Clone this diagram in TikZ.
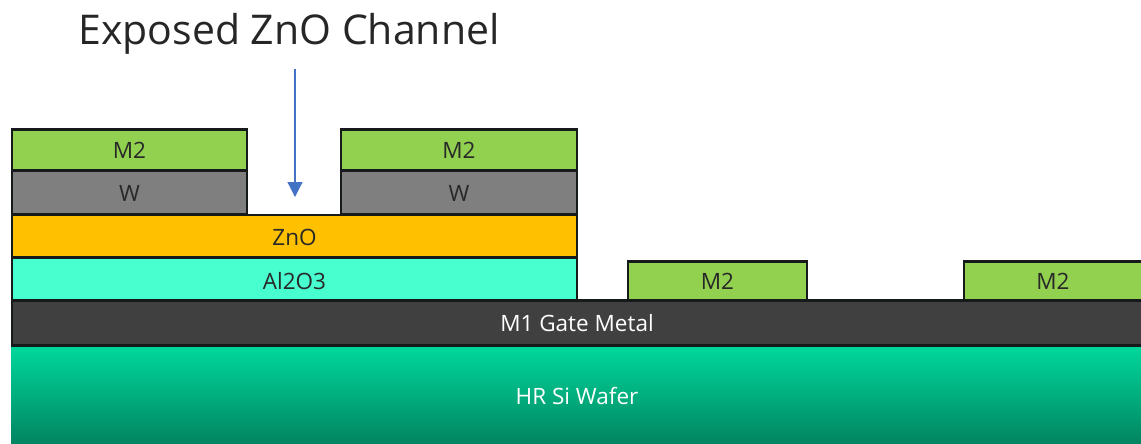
\documentclass[tikz,border=0pt]{standalone}
\usepackage{fontspec}
\setmainfont{Open Sans}
\usetikzlibrary{arrows.meta}
\definecolor{mtwo}{RGB}{146,208,80}
\definecolor{wgray}{RGB}{127,127,127}
\definecolor{zno}{RGB}{255,192,0}
\definecolor{alox}{RGB}{72,255,208}
\definecolor{gatem}{RGB}{64,64,64}
\definecolor{edge}{RGB}{22,26,26}
\definecolor{txt}{RGB}{40,40,40}
\definecolor{arrowblue}{RGB}{68,114,196}
\definecolor{wtop}{RGB}{0,216,156}
\definecolor{wbot}{RGB}{2,132,96}
\tikzset{
  lab/.style={font=\fontsize{22.5}{25}\selectfont},
  layer/.style={draw=edge,line width=2.4pt,inner sep=0pt,outer sep=0pt,text=txt,lab},
  mtwolayer/.style={layer,fill=mtwo},
  wlayer/.style={layer,fill=wgray},
  pointer/.style={draw=arrowblue,line width=1.2pt,-{Triangle[length=15pt,width=15pt]}}
}
\begin{document}
\begin{tikzpicture}[x=1pt,y=-1pt]
\useasboundingbox (0,0) rectangle (1141,444);
\node[inner sep=0pt,minimum width=1160pt,minimum height=99pt,shade,top color=wtop,bottom color=wbot] (wafer) at (590.5,395.5) {};
\fill[white] (0,340) rectangle (11,444);
\node[text=white,lab] (waferlabel) at (577,396) {HR Si Wafer};
\node[layer,fill=gatem,minimum width=1160pt,minimum height=45pt,anchor=west] (gate) at (12,323) {};
\node[text=white,lab] (gatelabel) at (577,323) {M1 Gate Metal};
\node[layer,fill=alox,minimum width=565pt,minimum height=43pt] (al) at (294.5,279) {};
\node[text=txt,lab] (allabel) at (294.5,281) {Al2O3};
\node[layer,fill=zno,minimum width=565pt,minimum height=42pt] (znlayer) at (294.5,236) {};
\node[text=txt,lab] (znlabel) at (294.5,237) {ZnO};
\node[wlayer,minimum width=235pt,minimum height=44pt] (wa) at (129.5,192) {};
\node[text=txt,lab] (walabel) at (129.5,193) {W};
\node[wlayer,minimum width=236pt,minimum height=44pt] (wb) at (459,192) {};
\node[text=txt,lab] (wblabel) at (459,193) {W};
\node[mtwolayer,minimum width=235pt,minimum height=41pt] (ma) at (129.5,150) {M2};
\node[mtwolayer,minimum width=236pt,minimum height=41pt] (mb) at (459,150) {M2};
\node[mtwolayer,minimum width=179pt,minimum height=39pt] (mc) at (717.5,281) {M2};
\node[mtwolayer,minimum width=200pt,minimum height=39pt,anchor=west] (md) at (964,281) {};
\node[text=txt,lab] (mdlabel) at (1053,281) {M2};
\node[text=black!85,font=\fontsize{41}{46}\selectfont,inner sep=0pt] (title) at (289,34) {Exposed ZnO Channel};
\coordinate (arrowstart) at (295,69);
\coordinate (arrowend) at (295,197);
\draw[pointer] (arrowstart) -- (arrowend);
\end{tikzpicture}
\end{document}
